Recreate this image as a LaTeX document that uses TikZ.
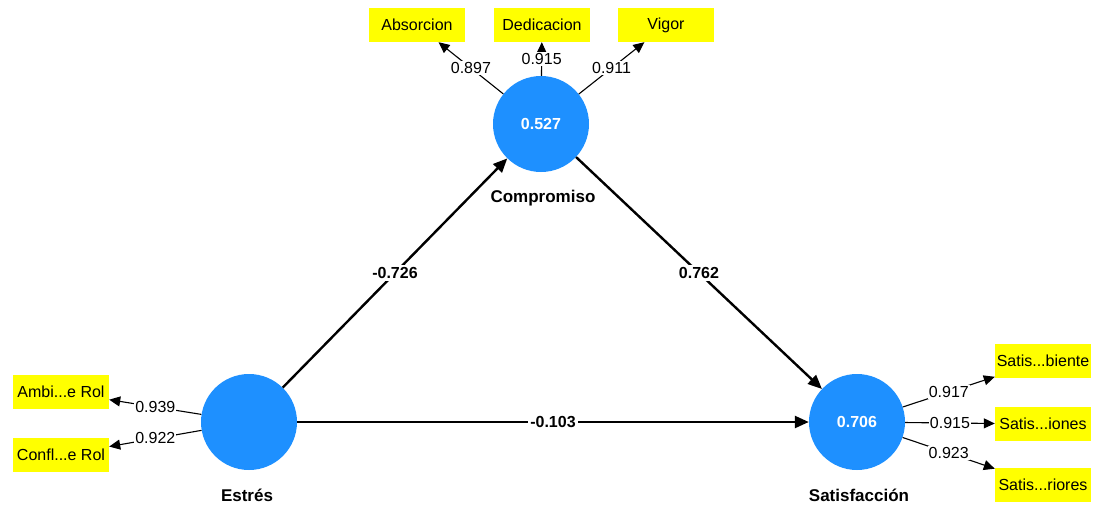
\documentclass[tikz,border=0pt]{standalone}
\usepackage{fontspec}
\setmainfont{Liberation Sans}
\usetikzlibrary{arrows.meta}
\definecolor{lvblue}{RGB}{30,144,255}
\definecolor{indyellow}{RGB}{255,255,0}
\begin{document}
\begin{tikzpicture}[x=1pt,y=-1pt,
  lv/.style={circle,fill=lvblue,minimum size=96pt,inner sep=0pt,text=white,font=\fontsize{16}{19}\selectfont\bfseries},
  lvname/.style={font=\fontsize{17}{20}\selectfont\bfseries},
  ind/.style={fill=indyellow,minimum height=34pt,minimum width=96pt,inner sep=1pt,font=\fontsize{16}{19}\selectfont},
  load/.style={line width=1.1pt,-{Triangle[length=11pt,width=10pt]}},
  struct/.style={line width=2.4pt,-{Triangle[length=14pt,width=12pt]}},
  ll/.style={fill=white,inner sep=1pt,font=\fontsize{16}{19}\selectfont},
  pl/.style={fill=white,inner sep=2pt,font=\fontsize{16}{19}\selectfont\bfseries}]
\useasboundingbox (0,0) rectangle (1096,506);

% latent variables
\node[lv] (C) at (541,124) {0.527};
\node[lv] (E) at (249,422) {};
\node[lv] (S) at (857,422) {0.706};
\node[lvname] (Cn) at (543,198) {Compromiso};
\node[lvname] (En) at (247,495) {Estrés};
\node[lvname] (Sn) at (859,495) {Satisfacción};

% indicators
\node[ind] (A1) at (417,25) {Absorcion};
\node[ind] (A2) at (542,25) {Dedicacion};
\node[ind] (A3) at (666,25) {Vigor};
\node[ind] (B1) at (61,392) {Ambi...e Rol};
\node[ind] (B2) at (61,455) {Confl...e Rol};
\node[ind] (D1) at (1043,361) {Satis...biente};
\node[ind] (D2) at (1043,424) {Satis...iones};
\node[ind] (D3) at (1043,485) {Satis...riores};

% loadings
\draw[load] (C) -- node[ll] {0.897} (A1);
\draw[load] (C) -- node[ll] {0.915} (A2);
\draw[load] (C) -- node[ll] {0.911} (A3);
\draw[load] (E) -- node[ll] {0.939} (B1);
\draw[load] (E) -- node[ll] {0.922} (B2);
\draw[load] (S) -- node[ll] {0.917} (D1);
\draw[load] (S) -- node[ll] {0.915} (D2);
\draw[load] (S) -- node[ll] {0.923} (D3);

% structural paths
\draw[struct] (E) -- node[pl] {-0.726} (C);
\draw[struct] (C) -- node[pl] {0.762} (S);
\draw[struct] (E) -- node[pl] {-0.103} (S);
\end{tikzpicture}
\end{document}
